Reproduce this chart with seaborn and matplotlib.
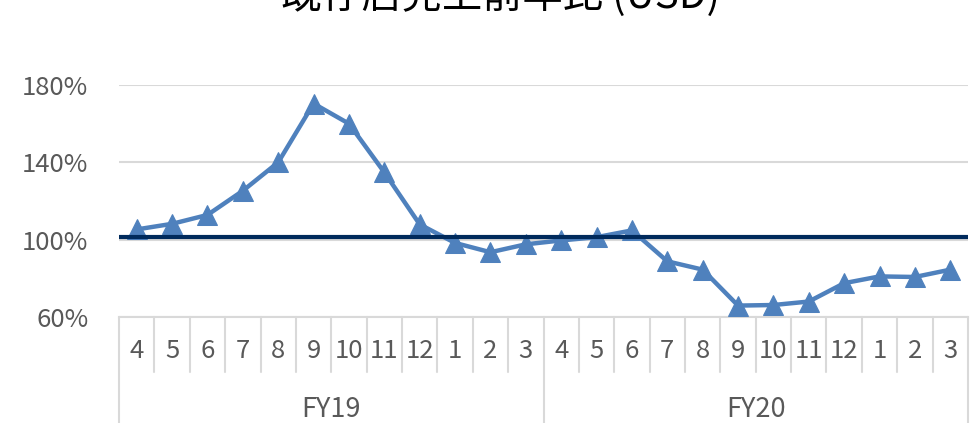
import numpy as np
import pandas as pd
import seaborn as sns
import matplotlib.pyplot as plt
import matplotlib.transforms as mtransforms

sns.set_theme(style="white")
plt.rcParams["font.family"] = ["Noto Sans CJK JP", "DejaVu Sans"]

# データ
title = "既存店売上前年比 (USD)"
fiscal_years = ["FY19", "FY20"]
months = ["4", "5", "6", "7", "8", "9", "10", "11", "12", "1", "2", "3"]
ratio_fy19 = [1.053, 1.082, 1.128, 1.253, 1.400, 1.704, 1.600, 1.348, 1.079, 0.983, 0.935, 0.976]
ratio_fy20 = [0.996, 1.013, 1.048, 0.888, 0.845, 0.659, 0.662, 0.680, 0.775, 0.810, 0.807, 0.845]
target = 1.012
yticks = [0.6, 1.0, 1.4, 1.8]

df = pd.DataFrame({
    "fy": np.repeat(fiscal_years, len(months)),
    "month": months * len(fiscal_years),
    "ratio": ratio_fy19 + ratio_fy20,
})
df["pos"] = np.arange(len(df))

fig = plt.figure(figsize=(9.71, 4.23), dpi=100)
ax = fig.add_axes([0.1226, 0.2506, 0.8743, 0.5484])

grey = "#595959"
line_grey = "#d9d9d9"

sns.lineplot(data=df, x="pos", y="ratio", ax=ax, color="#4f81bd", linewidth=3.2,
             marker="^", markersize=15, markeredgecolor="#4f81bd", zorder=3)
ax.axhline(target, color="#002a5c", linewidth=3, zorder=4)

n = len(df)
ax.set_xlim(-0.5, n - 0.5)
ax.set_ylim(0.6, 1.8)
ax.set_yticks(yticks)
ax.set_yticklabels([f"{int(round(v * 100))}%" for v in yticks])
ax.yaxis.grid(True, color=line_grey, linewidth=1.5)
ax.set_axisbelow(True)
ax.tick_params(axis="y", length=0, pad=22, labelsize=18.5, labelcolor=grey)

ax.set_xticks(df["pos"])
ax.set_xticklabels(df["month"])
ax.tick_params(axis="x", length=0, pad=15, labelsize=18.5, labelcolor=grey)
ax.set_xlabel("")
ax.set_ylabel("")

for s in ["top", "right", "left"]:
    ax.spines[s].set_visible(False)
ax.spines["bottom"].set_color(line_grey)
ax.spines["bottom"].set_linewidth(1.5)

# カテゴリ区切り線
trans = mtransforms.blended_transform_factory(ax.transData, ax.transAxes)
for k in range(n + 1):
    edge = k - 0.5
    low = -0.46 if k % len(months) == 0 else -0.237
    ax.plot([edge, edge], [0, low], transform=trans, color=line_grey,
            linewidth=1.5, clip_on=False)

for i, fy in enumerate(fiscal_years):
    center = i * len(months) + (len(months) - 1) / 2
    ax.text(center, -0.40, fy, transform=trans, ha="center", va="center",
            fontsize=19.5, color=grey)

fig.text(0.515, 0.981, title, ha="center", va="baseline", fontsize=29, color="black")

plt.savefig("out.png", dpi=100)
